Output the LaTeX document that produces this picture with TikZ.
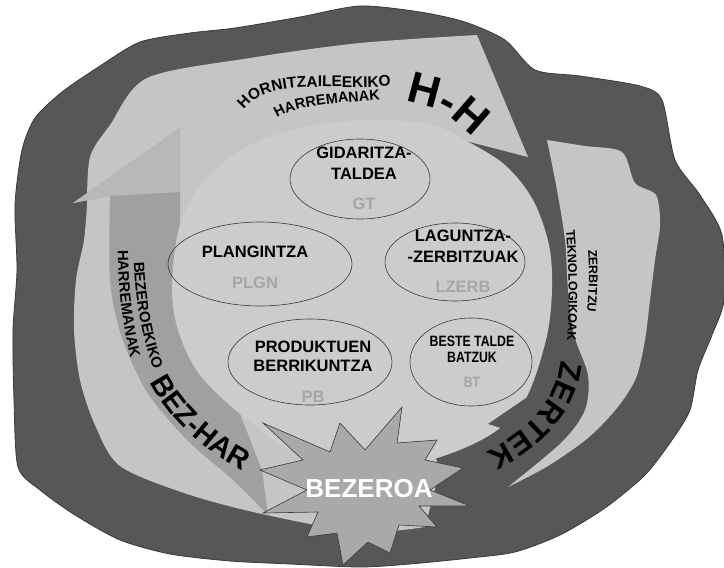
\documentclass[tikz,border=0pt]{standalone}
\usepackage{fontspec}
\setmainfont{Liberation Sans}
\newfontfamily\narrowfont[FakeStretch=0.82]{Liberation Sans}
\usetikzlibrary{decorations.text,shapes.geometric}

\definecolor{blobdark}{HTML}{575757}
\definecolor{ringlight}{HTML}{C5C5C5}
\definecolor{corelight}{HTML}{CCCCCC}
\definecolor{bandmid}{HTML}{A0A0A0}
\definecolor{headmid}{HTML}{B8B8B8}
\definecolor{starfill}{HTML}{A9A9A9}
\definecolor{codegray}{HTML}{A6A6A6}
\definecolor{edgegray}{HTML}{3A3A3A}

\newcommand\unitfont{\fontsize{16.5}{21}\selectfont\bfseries}
\newcommand\smallarc{\fontsize{15.5}{15.5}\selectfont\bfseries}
\newcommand\sidearc{\fontsize{15}{15}\selectfont\bfseries}
\newcommand\tinyarc{\fontsize{12.5}{12.5}\selectfont\bfseries}
\newcommand\bigarc{\fontsize{31}{31}\selectfont\bfseries}

\tikzset{
  unit/.style={ellipse, draw=edgegray, line width=0.6pt, inner sep=0pt},
  unitlabel/.style={align=center, font=\unitfont, inner sep=0pt},
  arclabel/.style={decorate, decoration={text along path, text align=left, text={#1}}},
}

\begin{document}
\begin{tikzpicture}[x=1pt,y=-1pt]
\useasboundingbox (0,0) rectangle (724,568);
% outer blob
\filldraw[fill=blobdark, draw=edgegray, line width=0.8pt] plot[smooth cycle, tension=0.45] coordinates {
  (18,467) (14,400) (13,330) (17,270) (15,205) (22,150) (35,118) (62,92) (100,66)
  (140,42) (190,33) (235,28) (300,17) (360,6) (420,12) (465,22) (505,40) (535,70)
  (580,76) (640,86) (662,100) (675,160) (700,195) (722,235) (724,300) (712,335)
  (698,370) (690,410) (672,440) (645,475) (605,508) (560,535) (515,552) (470,558)
  (410,564) (360,567) (290,564) (230,561) (170,554) (120,540) (75,515) (40,490)};
% light ring with the H-H arrow head
\fill[ringlight] plot[smooth, tension=0.5] coordinates {(87,205) (90,157) (110,125) (147,78) (250,58) (360,43) (477,35)}
  -- (528,157) -- (462,140) -- (380,300) -- (440,470) -- (425,527)
  -- plot[smooth, tension=0.5] coordinates {(425,527) (360,532) (262,514) (187,494) (120,466) (95,425) (80,380) (74,330) (76,280) (84,240) (87,205)}
  -- cycle;
% right light strip
\fill[ringlight] (547,140) -- plot[smooth, tension=0.5] coordinates {(547,140) (557,190) (565,240) (568,290) (574,335) (588,375) (585,410) (562,442) (508,487)}
  -- plot[smooth, tension=0.5] coordinates {(508,487) (548,466) (588,438) (617,408) (636,378) (645,340) (650,300) (655,260) (660,225) (656,195) (635,183) (622,152) (585,146) (547,140)}
  -- cycle;
% left arrow band
\fill[bandmid] (268,515) -- plot[smooth, tension=0.5] coordinates {(268,515) (233,480) (187,440) (147,392) (121,335) (110,280) (110,196)}
  -- (73,203) -- (180,128) -- (180,262) -- (262,470) -- cycle;
\fill[headmid] (73,203) -- (180,128) -- (180,192) -- (110,196) -- cycle;
% core
\fill[corelight] plot[smooth cycle, tension=0.55] coordinates {
  (172,285) (180,225) (205,180) (250,145) (310,126) (370,120) (430,124) (465,140)
  (505,165) (533,200) (549,245) (552,290) (546,340) (525,400) (490,435) (430,460)
  (360,468) (295,452) (245,418) (200,375) (178,330)};
% barb of the dark band
\fill[blobdark] (526,398) -- (488,424) -- (514,432) -- cycle;
% units
\node[unit, minimum width=140pt, minimum height=80pt] (gt) at (360,179) {};
\node[unit, minimum width=184pt, minimum height=84pt] (plgn) at (260,264) {};
\node[unit, minimum width=140pt, minimum height=78pt] (lzerb) at (455,262) {};
\node[unit, minimum width=164pt, minimum height=86pt] (pb) at (310,362) {};
\node[unit, minimum width=122pt, minimum height=88pt] (bt) at (471,362) {};
\node[unitlabel] (gt-label) at (364,178) {GIDARITZA-\\TALDEA\\[9pt]\textcolor{codegray}{GT}};
\node[unitlabel] (plgn-label) at (255,267) {PLANGINTZA\\[10pt]\textcolor{codegray}{PLGN}};
\node[unitlabel] (lzerb-label) at (463,261) {LAGUNTZA-\\-ZERBITZUAK\\[9pt]\textcolor{codegray}{LZERB}};
\node[unitlabel, font=\unitfont\linespread{0.9}\selectfont] (pb-label) at (313,372) {PRODUKTUEN\\BERRIKUNTZA\\[12pt]\textcolor{codegray}{PB}};
\node[unitlabel, font=\narrowfont\bfseries\fontsize{15}{16}\selectfont] (bt-label) at (472,362) {BESTE TALDE\\BATZUK\\[9pt]\textcolor{codegray}{BT}};
% customer
\filldraw[fill=starfill, draw=edgegray, line width=0.6pt]
  (263,423) -- (330,452) -- (340,423) -- (365,450) -- (402,407) -- (397,443)
  -- (437,440) -- (425,460) -- (463,468) -- (430,490) -- (470,506) -- (419,506)
  -- (437,527) -- (399,525) -- (390,553) -- (368,542) -- (343,565) -- (337,533)
  -- (307,537) -- (318,512) -- (263,513) -- (307,490) -- (260,470) -- (303,460) -- cycle;
\node[text=white, font=\fontsize{26}{26}\selectfont\bfseries] (bezeroa) at (369,489) {BEZEROA};
% texts along the arrows
\path[arclabel={|\smallarc|HORNITZAILEEKIKO}] (244,110) .. controls (258,90) and (292,86) .. (330,87) .. controls (362,87) and (382,88) .. (410,84);
\path[arclabel={|\fontsize{14.5}{14.5}\selectfont\bfseries|HARREMANAK}] (277,118) .. controls (295,106) and (330,103) .. (390,99);
\path[arclabel={|\fontsize{44}{44}\selectfont\bfseries|H-H}] (405,102) .. controls (440,106) and (468,125) .. (495,168);
\path[arclabel={|\sidearc|BEZEROEKIKO}] (134,262) .. controls (135,300) and (142,345) .. (165,400);
\path[arclabel={|\sidearc|HARREMANAK}] (118,250) .. controls (118,300) and (126,360) .. (150,420);
\path[arclabel={|\fontsize{29}{29}\selectfont\bfseries|BEZ-HAR}] (150,382) .. controls (170,420) and (205,455) .. (265,482);
\path[arclabel={|\tinyarc|ZERBITZU}] (588,250) .. controls (590,275) and (589,300) .. (584,335);
\path[arclabel={|\tinyarc|TEKNOLOGIKOAK}] (566,230) .. controls (569,270) and (570,310) .. (566,355);
\path[arclabel={|\bigarc|ZERTEK}] (561,360) .. controls (557,400) and (530,436) .. (460,464);
\end{tikzpicture}
\end{document}
